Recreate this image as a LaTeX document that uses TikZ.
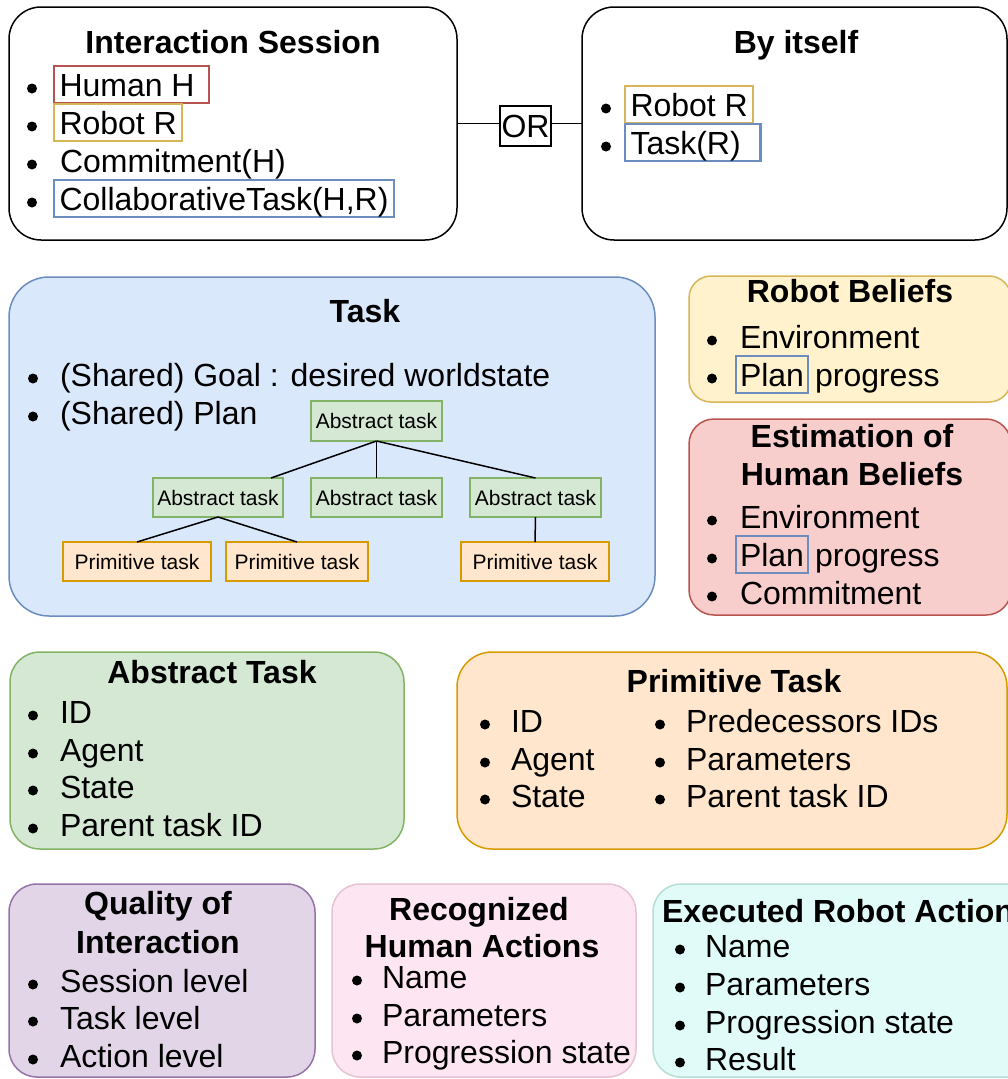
\documentclass[tikz,border=0pt]{standalone}
\usepackage{fontspec}
\setmainfont{Liberation Sans}
\definecolor{hred}{HTML}{B85450}
\definecolor{hyel}{HTML}{D6B656}
\definecolor{hblu}{HTML}{6C8EBF}
\definecolor{tfill}{HTML}{DAE8FC}
\definecolor{gfill}{HTML}{D5E8D4}
\definecolor{gline}{HTML}{82B366}
\definecolor{ofill}{HTML}{FFE6CC}
\definecolor{oline}{HTML}{D79B00}
\definecolor{yfill}{HTML}{FFF2CC}
\definecolor{rfill}{HTML}{F8CECC}
\definecolor{pfill}{HTML}{E1D5E7}
\definecolor{pline}{HTML}{9673A6}
\definecolor{kfill}{HTML}{FDE6F2}
\definecolor{kline}{HTML}{E6C3D5}
\definecolor{cfill}{HTML}{E0FBF8}
\definecolor{cline}{HTML}{B6DDD6}
\newcommand\fs{\fontsize{32}{38}\selectfont}
\newcommand\fsm{\fontsize{21}{25}\selectfont}
\newcommand\bdot[2]{\fill (#1,#2-7.5) circle[radius=5pt];}
\begin{document}
\begin{tikzpicture}[x=1pt,y=-1pt,
  box/.style={rectangle, rounded corners=#1, line width=1.5pt, anchor=north west, inner sep=0pt, outer sep=0pt},
  box/.default=30pt,
  txt/.style={anchor=base west, inner sep=0pt, outer sep=0pt, font=\fs},
  ttl/.style={anchor=base, inner sep=0pt, outer sep=0pt, font=\fs\bfseries},
  hl/.style={draw=#1, line width=2.2pt, anchor=base west, inner xsep=5.5pt, inner ysep=4pt, text height=26pt, text depth=3pt, outer sep=0pt, font=\fs},
  tnode/.style={rectangle, line width=1.5pt, anchor=north west, inner sep=0pt, outer sep=0pt, font=\fsm},
  edge/.style={line width=1.5pt}]
\useasboundingbox (0,0) rectangle (1008,1079);
\clip (0,0) rectangle (1008,1079);

% ---------- Interaction Session ----------
\node[box=32pt, draw=black, fill=white, minimum width=448pt, minimum height=233pt] (is) at (9,7) {};
\node[ttl] (ist) at (233,53) {Interaction Session};
\bdot{32}{96}\bdot{32}{134}\bdot{32}{172}\bdot{32}{210}
\node[hl=hred] (ish) at (54,96) {Human H\ \hspace{4pt}};
\node[hl=hyel] (isr) at (54,134) {Robot R\ };
\node[txt] (isc) at (60,172) {Commitment(H)};
\node[hl=hblu] (isk) at (54,210) {CollaborativeTask(H,R)};

% ---------- By itself ----------
\node[box=32pt, draw=black, fill=white, minimum width=425pt, minimum height=233pt] (bi) at (582,7) {};
\node[ttl] (bit) at (796,53) {By itself};
\bdot{606}{116}\bdot{606}{154}
\node[hl=hyel] (bir) at (625,116) {Robot R\ };
\node[hl=hblu] (bik) at (625,154) {Task(R)\ \,};

% ---------- OR ----------
\node[draw=black, line width=1.5pt, inner xsep=1.5pt, inner ysep=8.5pt, text height=23pt, text depth=0pt, outer sep=0pt, font=\fs] (or) at (525.5,126) {OR};
\draw[edge] (is.east) -- (is.east -| or.west);
\draw[edge] (or.east |- bi.west) -- (bi.west);

% ---------- Task ----------
\node[box=40pt, draw=hblu, fill=tfill, minimum width=646pt, minimum height=339pt] (tk) at (9,277) {};
\node[ttl] (tkt) at (365,322) {Task};
\bdot{33}{386}\bdot{33}{424}
\node[txt] (tk1) at (60,386) {(Shared) Goal : desired worldstate};
\node[txt] (tk2) at (60,424) {(Shared) Plan};
\node[tnode, draw=gline, fill=gfill, minimum width=131pt, minimum height=40pt] (a0) at (311,401) {Abstract task};
\node[tnode, draw=gline, fill=gfill, minimum width=130pt, minimum height=39pt] (a1) at (153,478) {Abstract task};
\node[tnode, draw=gline, fill=gfill, minimum width=131pt, minimum height=39pt] (a2) at (311,478) {Abstract task};
\node[tnode, draw=gline, fill=gfill, minimum width=131pt, minimum height=39pt] (a3) at (470,478) {Abstract task};
\node[tnode, draw=oline, fill=ofill, minimum width=148pt, minimum height=39pt] (p1) at (63,542) {Primitive task};
\node[tnode, draw=oline, fill=ofill, minimum width=142pt, minimum height=39pt] (p2) at (226,542) {Primitive task};
\node[tnode, draw=oline, fill=ofill, minimum width=148pt, minimum height=39pt] (p3) at (461,542) {Primitive task};
\draw[edge] (a0.south) -- ([xshift=-12pt]a1.north east);
\draw[edge] (a0.south) -- (a2.north);
\draw[edge] (a0.south) -- (a3.north);
\draw[edge] (a1.south) -- (p1.north);
\draw[edge] (a1.south) -- (p2.north);
\draw[edge] (a3.south) -- (p3.north);

% ---------- Robot Beliefs ----------
\node[box=22pt, draw=hyel, fill=yfill, minimum width=322pt, minimum height=126pt] (rb) at (689,276) {};
\node[ttl] (rbt) at (850,302) {Robot Beliefs};
\bdot{712}{348}\bdot{712}{386}
\node[txt] (rb1) at (740,348) {Environment};
\node[hl=hblu, inner xsep=4pt] (rbp) at (736,386) {Plan};
\node[txt] (rbq) at ([xshift=7pt]rbp.base east) {progress};

% ---------- Estimation of Human Beliefs ----------
\node[box=25pt, draw=hred, fill=rfill, minimum width=322pt, minimum height=196pt] (eh) at (689,419) {};
\node[ttl] (eht1) at (852,447) {Estimation of};
\node[ttl] (eht2) at (852,485) {Human Beliefs};
\bdot{712}{528}\bdot{712}{566}\bdot{712}{604}
\node[txt] (eh1) at (740,528) {Environment};
\node[hl=hblu, inner xsep=4pt] (ehp) at (736,566) {Plan};
\node[txt] (ehq) at ([xshift=7pt]ehp.base east) {progress};
\node[txt] (eh3) at (740,604) {Commitment};

% ---------- Abstract Task ----------
\node[box=30pt, draw=gline, fill=gfill, minimum width=394pt, minimum height=197pt] (at) at (10,652) {};
\node[ttl] (att) at (212,683) {Abstract Task};
\bdot{33}{723}\bdot{33}{761}\bdot{33}{798}\bdot{33}{836}
\node[txt] (at1) at (60,723) {ID};
\node[txt] (at2) at (60,761) {Agent};
\node[txt] (at3) at (60,798) {State};
\node[txt] (at4) at (60,836) {Parent task ID};

% ---------- Primitive Task ----------
\node[box=35pt, draw=oline, fill=ofill, minimum width=550pt, minimum height=197pt] (pt) at (457,652) {};
\node[ttl] (ptt) at (734,692) {Primitive Task};
\bdot{485}{732}\bdot{485}{770}\bdot{485}{807}
\bdot{660}{732}\bdot{660}{770}\bdot{660}{807}
\node[txt] (pt1) at (511,732) {ID};
\node[txt] (pt2) at (511,770) {Agent};
\node[txt] (pt3) at (511,807) {State};
\node[txt] (pt4) at (686,732) {Predecessors IDs};
\node[txt] (pt5) at (686,770) {Parameters};
\node[txt] (pt6) at (686,807) {Parent task ID};

% ---------- Quality of Interaction ----------
\node[box=28pt, draw=pline, fill=pfill, minimum width=306pt, minimum height=193pt] (qi) at (9,884) {};
\node[ttl] (qit1) at (158,914) {Quality of};
\node[ttl] (qit2) at (158,953) {Interaction};
\bdot{33}{992}\bdot{33}{1029}\bdot{33}{1067}
\node[txt] (qi1) at (60,992) {Session level};
\node[txt] (qi2) at (60,1029) {Task level};
\node[txt] (qi3) at (60,1067) {Action level};

% ---------- Recognized Human Actions ----------
\node[box=28pt, draw=kline, fill=kfill, minimum width=304pt, minimum height=193pt] (rh) at (332,884) {};
\node[ttl] (rht1) at (479,920) {Recognized};
\node[ttl] (rht2) at (482,957) {Human Actions};
\bdot{357}{988}\bdot{357}{1026}\bdot{357}{1063}
\node[txt] (rh1) at (382,988) {Name};
\node[txt] (rh2) at (382,1026) {Parameters};
\node[txt] (rh3) at (382,1063) {Progression state};

% ---------- Executed Robot Actions ----------
\node[box=28pt, draw=cline, fill=cfill, minimum width=400pt, minimum height=193pt] (er) at (653,884) {};
\node[ttl, anchor=base west] (ert) at (662,922) {Executed Robot Actions};
\bdot{680}{957}\bdot{680}{995}\bdot{680}{1033}\bdot{680}{1070}
\node[txt] (er1) at (705,957) {Name};
\node[txt] (er2) at (705,995) {Parameters};
\node[txt] (er3) at (705,1033) {Progression state};
\node[txt] (er4) at (705,1070) {Result};
\end{tikzpicture}
\end{document}
